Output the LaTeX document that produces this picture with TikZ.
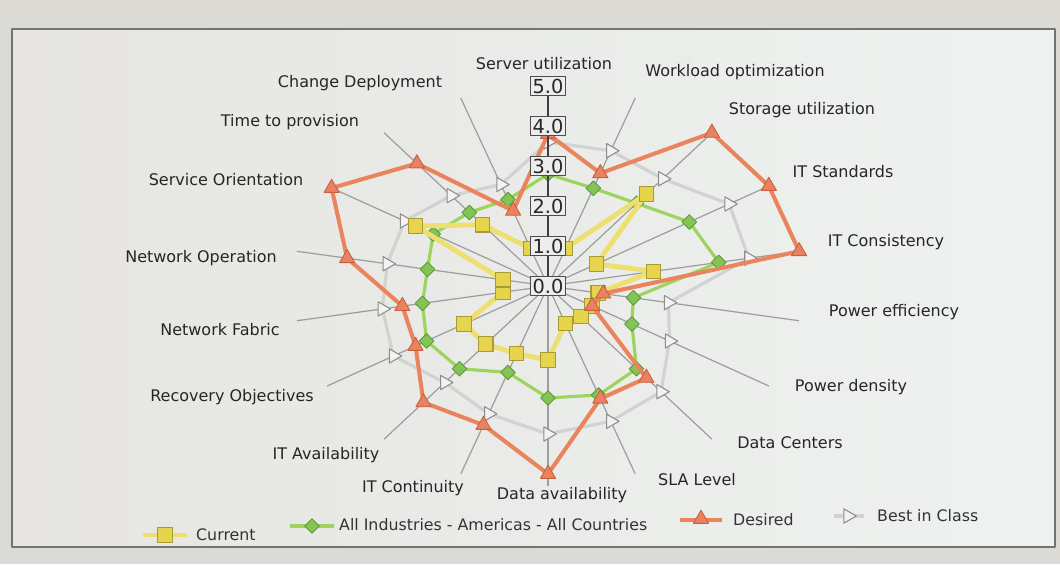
\documentclass[tikz,border=0pt]{standalone}
\usepackage{fontspec}
\setmainfont{DejaVu Sans}
\usetikzlibrary{shapes.geometric}

\definecolor{curfill}{HTML}{E6D44C}
\definecolor{curline}{HTML}{EEE070}
\definecolor{curdraw}{HTML}{A89A34}
\definecolor{avgfill}{HTML}{84C454}
\definecolor{avgline}{HTML}{9CD45E}
\definecolor{avgdraw}{HTML}{5C9A3C}
\definecolor{desfill}{HTML}{EA8262}
\definecolor{desline}{HTML}{E9845C}
\definecolor{desdraw}{HTML}{C8603E}
\definecolor{bestline}{HTML}{D2D2D2}
\definecolor{bestdraw}{HTML}{8C8C8C}
\definecolor{paper}{HTML}{DCDAD5}
\definecolor{panelleft}{HTML}{E6E5E1}
\definecolor{panelright}{HTML}{EEF2F0}

\begin{document}
\begin{tikzpicture}
  [
    x=0.02cm, y=-0.02cm,
    line join=round,
    spoke/.style={draw=black!38, line width=0.7pt},
    axis label/.style={font=\fontsize{9.1}{11}\selectfont, text=black!85},
    value box/.style={draw=black!70, fill=white!93!black, line width=1pt, inner sep=1.2pt,
      minimum height=0.38cm, font=\fontsize{11}{12}\selectfont, text=black!85},
    key label/.style={font=\fontsize{9}{10}\selectfont, text=black!80, anchor=west},
    cur line/.style={draw=curline, line width=2.8pt},
    cur mark/.style={rectangle, draw=curdraw, fill=curfill, line width=0.6pt, minimum size=0.29cm, inner sep=0pt},
    avg line/.style={draw=avgline, line width=1.8pt},
    avg mark/.style={diamond, draw=avgdraw, fill=avgfill, line width=0.5pt, minimum size=0.3cm, inner sep=0pt},
    des line/.style={draw=desline, line width=2.3pt},
    des mark/.style={regular polygon, regular polygon sides=3, draw=desdraw, fill=desfill, line width=0.5pt,
      minimum size=0.35cm, inner sep=0pt},
    best line/.style={draw=bestline, line width=1.8pt},
    best mark/.style={regular polygon, regular polygon sides=3, regular polygon rotate=-90, draw=bestdraw,
      fill=white!95!black, line width=0.6pt, minimum size=0.33cm, inner sep=0pt}
  ]

  % screen and chart panel
  \fill[paper] (0,0) rectangle (1060,564);
  \shade[left color=panelleft, right color=panelright] (12,29) rectangle (1055,547);
  \draw[black!55, line width=0.8pt] (12,29) rectangle (1055,547);
  \coordinate (c) at (548,286);

  \begin{scope}[shift={(c)}, x=1.02cm, y=0.8cm]
    \foreach \k in {0,...,17}
      \draw[spoke] (0,0) -- ({90-20*\k}:5);

    % best in class
    \foreach \v [count=\k from 0] in {3.6,3.6,3.5,4.1,4.0,2.4,2.75,3.45,3.6,3.7,3.4,3.15,3.5,3.3,3.2,3.25,2.95,2.7}
      \coordinate (b\k) at ({90-20*\k}:\v);
    \draw[best line] (b0) \foreach \k in {1,...,17}{ -- (b\k)} -- cycle;
    \foreach \k in {0,...,17} \node[best mark] (bm\k) at (b\k) {};

    % all industries
    \foreach \v [count=\k from 0] in {2.8,2.6,2.7,3.2,3.4,1.7,1.9,2.7,2.9,2.8,2.3,2.7,2.75,2.5,2.4,2.6,2.4,2.3}
      \coordinate (a\k) at ({90-20*\k}:\v);
    \draw[avg line] (a0) \foreach \k in {1,...,17}{ -- (a\k)} -- cycle;
    \foreach \k in {0,...,17} \node[avg mark] (am\k) at (a\k) {};

    % current
    \foreach \v [count=\k from 0] in {1.0,1.0,3.0,1.1,2.1,1.0,1.0,1.0,1.0,1.85,1.8,1.9,1.9,0.9,0.9,3.0,2.0,1.0}
      \coordinate (u\k) at ({90-20*\k}:\v);
    \draw[cur line] (u0) \foreach \k in {1,...,17}{ -- (u\k)} -- cycle;
    \foreach \k in {0,...,17} \node[cur mark] (um\k) at (u\k) {};

    % desired
    \foreach \v [count=\k from 0] in {3.8,3.0,5.0,5.0,5.0,1.1,1.0,3.0,3.0,4.7,3.7,3.8,3.0,2.9,4.0,4.9,4.0,2.0}
      \coordinate (d\k) at ({90-20*\k}:\v);
    \draw[des line] (d0) \foreach \k in {1,...,17}{ -- (d\k)} -- cycle;
    \foreach \k in {0,...,17} \node[des mark] (dm\k) at (d\k) {};

    % value axis
    \draw[black!75, line width=1.4pt] (0,0) -- (0,5);
    \foreach \v in {0,...,5}
      \node[value box] (v\v) at (0,\v) {\v.0};
  \end{scope}

  \node[axis label] (server) at (544,64) {Server utilization};
  \node[axis label] (workload) at (735,72) {Workload optimization};
  \node[axis label] (storage) at (802,110) {Storage utilization};
  \node[axis label] (standards) at (843,172) {IT Standards};
  \node[axis label] (consistency) at (886,242) {IT Consistency};
  \node[axis label] (efficiency) at (894,312) {Power efficiency};
  \node[axis label] (density) at (851,387) {Power density};
  \node[axis label] (centers) at (790,443) {Data Centers};
  \node[axis label] (sla) at (697,480) {SLA Level};
  \node[axis label] (availability) at (562,495) {Data availability};
  \node[axis label] (continuity) at (413,488) {IT Continuity};
  \node[axis label] (itavail) at (326,455) {IT Availability};
  \node[axis label] (recovery) at (232,397) {Recovery Objectives};
  \node[axis label] (fabric) at (220,330) {Network Fabric};
  \node[axis label] (operation) at (201,258) {Network Operation};
  \node[axis label] (service) at (226,180) {Service Orientation};
  \node[axis label] (provision) at (290,122) {Time to provision};
  \node[axis label] (change) at (360,83) {Change Deployment};

  % legend
  \draw[cur line] (143,535) -- (187,535);
  \node[cur mark] (k1) at (165,535) {};
  \node[key label] (t1) at (190,535) {Current};
  \draw[avg line] (290,526) -- (334,526);
  \node[avg mark] (k2) at (312,526) {};
  \node[key label] (t2) at (333,525) {All Industries - Americas - All Countries};
  \draw[des line] (680,520) -- (722,520);
  \node[des mark] (k3) at (701,519) {};
  \node[key label] (t3) at (727,520) {Desired};
  \draw[best line] (834,516) -- (864,516);
  \node[best mark] (k4) at (848,516) {};
  \node[key label] (t4) at (871,516) {Best in Class};
\end{tikzpicture}
\end{document}
